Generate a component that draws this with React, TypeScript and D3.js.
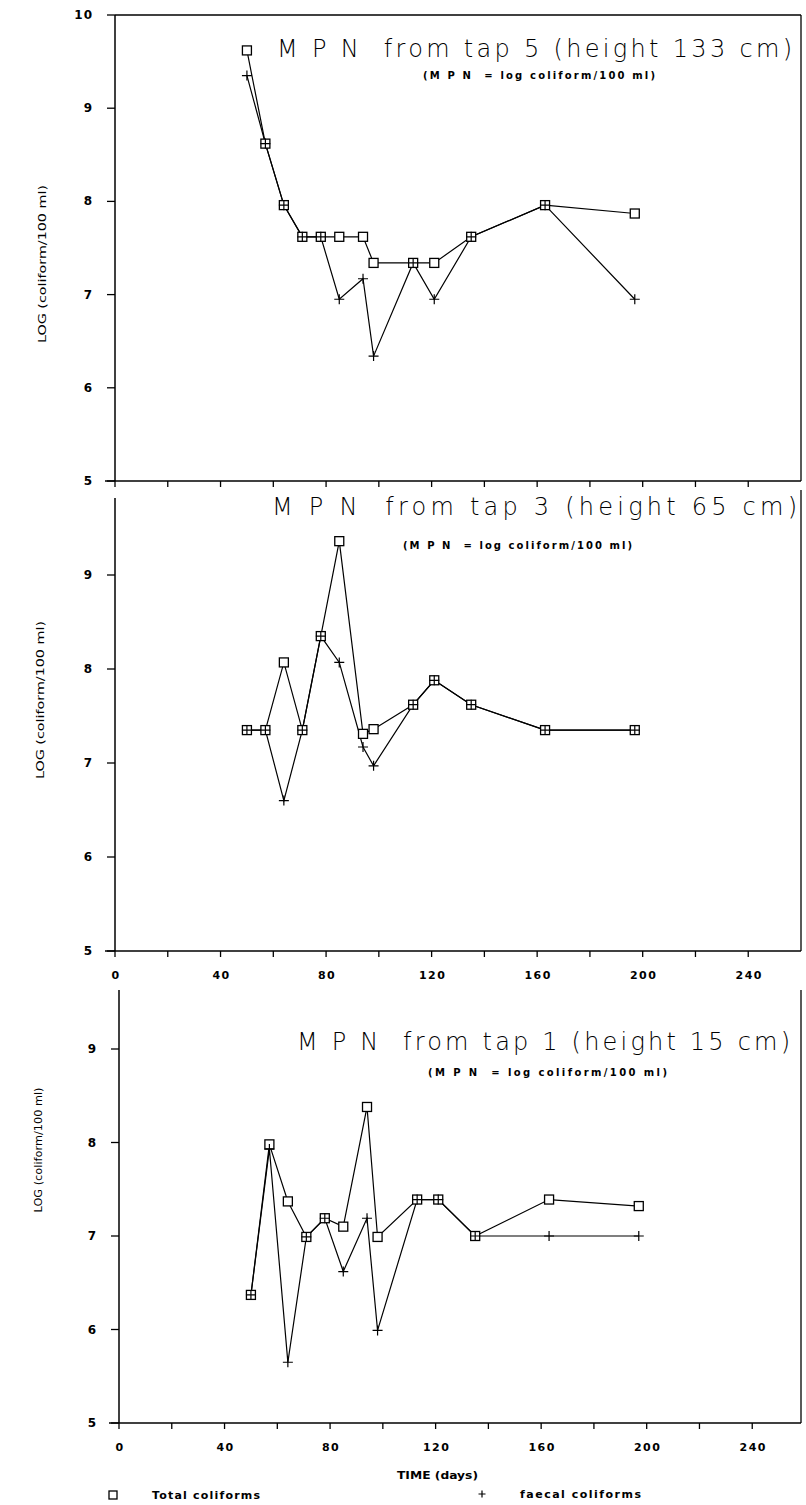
import React from "react";
import * as d3 from "d3";

// Sampling days (x values)
const days = [50, 57, 64, 71, 78, 85, 94, 98, 113, 121, 135, 163, 197];

// log coliform / 100 ml
const tap5Total = [9.62, 8.62, 7.96, 7.62, 7.62, 7.62, 7.62, 7.34, 7.34, 7.34, 7.62, 7.96, 7.87];
const tap5Faecal = [9.35, 8.62, 7.96, 7.62, 7.62, 6.95, 7.17, 6.34, 7.34, 6.95, 7.62, 7.96, 6.95];
const tap3Total = [7.35, 7.35, 8.07, 7.35, 8.35, 9.36, 7.31, 7.36, 7.62, 7.88, 7.62, 7.35, 7.35];
const tap3Faecal = [7.35, 7.35, 6.6, 7.35, 8.35, 8.07, 7.17, 6.97, 7.62, 7.88, 7.62, 7.35, 7.35];
const tap1Total = [6.37, 7.98, 7.37, 6.99, 7.19, 7.1, 8.38, 6.99, 7.39, 7.39, 7.0, 7.39, 7.32];
const tap1Faecal = [6.37, 7.93, 5.65, 6.99, 7.19, 6.62, 7.19, 5.99, 7.39, 7.39, 7.0, 7.0, 7.0];

const titles = [
  "M P N  from tap 5 (height 133 cm)",
  "M P N  from tap 3 (height 65 cm)",
  "M P N  from tap 1 (height 15 cm)",
];
const subtitle = "(M P N  = log coliform/100 ml)";
const yAxisTitle = "LOG (coliform/100 ml)";
const xAxisTitle = "TIME (days)";
const legendLabels = ["Total coliforms", "faecal coliforms"];

const yTicksTop = [5, 6, 7, 8, 9, 10];
const yTicksLower = [5, 6, 7, 8, 9];
const xTickMarks = [0, 20, 40, 60, 80, 100, 120, 140, 160, 180, 200, 220, 240];
const xTickLabels = [0, 40, 80, 120, 160, 200, 240];
const xDomain = [0, 260];
const yDomain = [5, 10];

type Panel = {
  title: string;
  total: number[];
  faecal: number[];
  x0: number;
  yTop: number; // pixel of value 10
  yBot: number; // pixel of value 5
  axisTop: number;
  rightTop: number;
  yTicks: number[];
  showXLabels: boolean;
  topBorder: boolean;
  titleBox: [number, number, number];
  subBox: [number, number, number];
  ylab: [number, number, number];
};

const panels: Panel[] = [
  {
    title: titles[0], total: tap5Total, faecal: tap5Faecal,
    x0: 115, yTop: 15, yBot: 481, axisTop: 15, rightTop: 15,
    yTicks: yTicksTop, showXLabels: false, topBorder: true,
    titleBox: [277, 792, 57], subBox: [423, 655, 79], ylab: [42, 264, 158],
  },
  {
    title: titles[1], total: tap3Total, faecal: tap3Faecal,
    x0: 115, yTop: 481, yBot: 951, axisTop: 498, rightTop: 490,
    yTicks: yTicksLower, showXLabels: true, topBorder: false,
    titleBox: [272, 797, 515], subBox: [403, 632, 549], ylab: [40, 700, 158],
  },
  {
    title: titles[2], total: tap1Total, faecal: tap1Faecal,
    x0: 119, yTop: 955.5, yBot: 1423, axisTop: 990, rightTop: 990,
    yTicks: yTicksLower, showXLabels: true, topBorder: false,
    titleBox: [297, 790, 1050], subBox: [428, 667, 1076], ylab: [38, 1150, 125],
  },
];

const RIGHT = 801;
const labelFont = "'DejaVu Sans', Arial, sans-serif";
const titleFont = "'DejaVu Sans', Arial, sans-serif";

function Square({ x, y, s = 9 }: { x: number; y: number; s?: number }) {
  return <rect x={x - s / 2} y={y - s / 2} width={s} height={s} fill="#fff" stroke="#000" strokeWidth={1.3} />;
}
function Plus({ x, y, a = 5 }: { x: number; y: number; a?: number }) {
  return (
    <path d={`M${x - a},${y}H${x + a}M${x},${y - a}V${y + a}`} stroke="#000" strokeWidth={1.2} fill="none" />
  );
}

function PanelView({ p }: { p: Panel }) {
  const x = d3.scaleLinear().domain(xDomain).range([p.x0, p.x0 + 686]);
  const y = d3.scaleLinear().domain(yDomain).range([p.yBot, p.yTop]);
  const line = d3
    .line<[number, number]>()
    .x((d) => x(d[0]))
    .y((d) => y(d[1]));
  const tot: [number, number][] = days.map((d, i) => [d, p.total[i]]);
  const fae: [number, number][] = days.map((d, i) => [d, p.faecal[i]]);
  const [tx1, tx2, tb] = p.titleBox;
  const [sx1, sx2, sb] = p.subBox;
  const [lx, lcy, llen] = p.ylab;
  return (
    <g>
      {/* axes frame */}
      <line x1={p.x0} x2={p.x0} y1={p.axisTop} y2={p.yBot} stroke="#000" strokeWidth={1.5} />
      <line x1={p.x0 - 10} x2={RIGHT} y1={p.yBot} y2={p.yBot} stroke="#000" strokeWidth={1.5} />
      <line x1={RIGHT} x2={RIGHT} y1={p.rightTop} y2={p.yBot} stroke="#000" strokeWidth={1.3} />
      {p.topBorder && <line x1={p.x0} x2={RIGHT} y1={y(10)} y2={y(10)} stroke="#000" strokeWidth={1.5} />}
      {p.yTicks.map((t) => (
        <g key={"y" + t}>
          <line x1={p.x0 - 8} x2={p.x0} y1={y(t)} y2={y(t)} stroke="#000" strokeWidth={1.3} />
          <text x={p.x0 - 22} y={y(t) + 4} textAnchor="end" fontFamily={labelFont} fontWeight="bold" fontSize={12} letterSpacing={1}>
            {t}
          </text>
        </g>
      ))}
      {xTickMarks.map((t) => (
        <line key={"xt" + t} x1={x(t)} x2={x(t)} y1={p.yBot} y2={p.yBot + 6} stroke="#000" strokeWidth={1.3} />
      ))}
      {p.showXLabels &&
        xTickLabels.map((t) => (
          <text key={"xl" + t} x={x(t) + 1} y={p.yBot + 28} textAnchor="middle" fontFamily={labelFont} fontWeight="bold" fontSize={11} letterSpacing={1.5}>
            {t}
          </text>
        ))}
      {/* y axis title */}
      <text
        transform={`translate(${lx},${lcy}) rotate(-90)`}
        textAnchor="middle"
        dy={4}
        fontFamily={labelFont}
        fontSize={11}
        textLength={llen}
        lengthAdjust="spacingAndGlyphs"
      >
        {yAxisTitle}
      </text>
      {/* titles */}
      <text x={tx1} y={tb} fontFamily={titleFont} fontWeight={200} fontSize={24} textLength={tx2 - tx1} lengthAdjust="spacing" xmlSpace="preserve" style={{ whiteSpace: "pre" }} fill="#000">
        {p.title}
      </text>
      <text x={sx1} y={sb} fontFamily={labelFont} fontWeight="bold" fontSize={10} textLength={sx2 - sx1} lengthAdjust="spacing" xmlSpace="preserve" style={{ whiteSpace: "pre" }}>
        {subtitle}
      </text>
      {/* series */}
      <path d={line(tot) || ""} fill="none" stroke="#000" strokeWidth={1.2} />
      <path d={line(fae) || ""} fill="none" stroke="#000" strokeWidth={1.2} />
      {tot.map((d, i) => (
        <Square key={"s" + i} x={x(d[0])} y={y(d[1])} />
      ))}
      {fae.map((d, i) => (
        <Plus key={"p" + i} x={x(d[0])} y={y(d[1])} />
      ))}
    </g>
  );
}

export default function App() {
  return (
    <svg
      width={806}
      height={1505}
      viewBox="0 0 806 1505"
      style={{ position: "absolute", left: 0, top: 0, background: "#fff", display: "block" }}
    >
      <rect x={0} y={0} width={806} height={1505} fill="#fff" />
      {panels.map((p, i) => (
        <PanelView key={i} p={p} />
      ))}
      {/* x axis title */}
      <text x={397} y={1479} fontFamily={labelFont} fontWeight="bold" fontSize={11} textLength={81} lengthAdjust="spacingAndGlyphs">
        {xAxisTitle}
      </text>
      {/* legend */}
      <Square x={113} y={1495} s={8} />
      <text x={152} y={1499} fontFamily={labelFont} fontWeight="bold" fontSize={11} textLength={108} lengthAdjust="spacing">
        {legendLabels[0]}
      </text>
      <Plus x={482} y={1494} a={3.5} />
      <text x={520} y={1498} fontFamily={labelFont} fontWeight="bold" fontSize={11} textLength={121} lengthAdjust="spacing">
        {legendLabels[1]}
      </text>
    </svg>
  );
}
